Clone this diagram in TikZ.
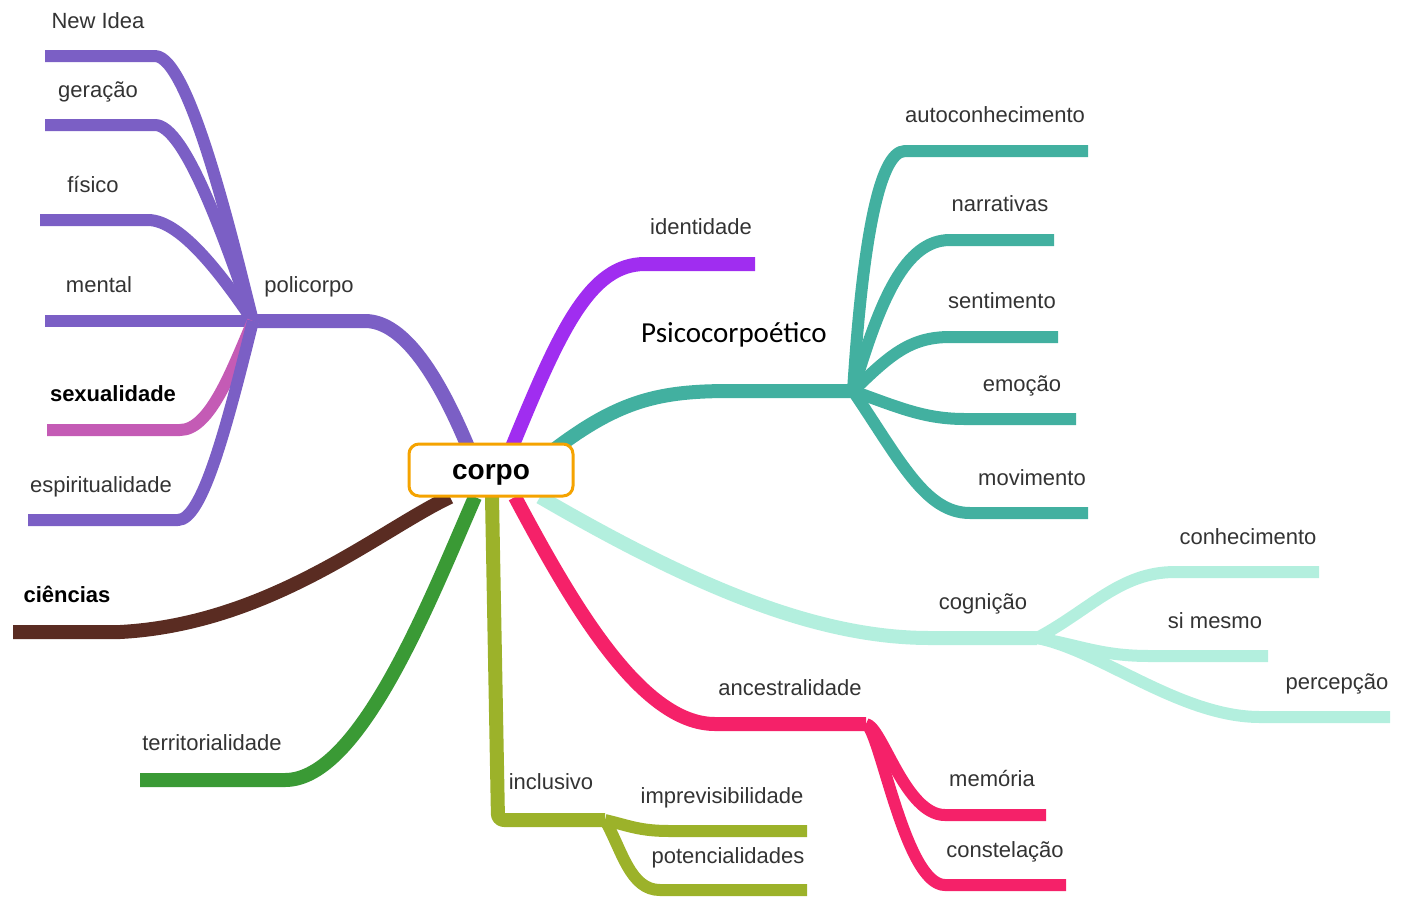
\documentclass[tikz,border=0pt]{standalone}
\usepackage{fontspec}
\setmainfont{Liberation Sans}
\newfontfamily\calfont{Carlito}
\definecolor{lblc}{RGB}{51,51,51}
\definecolor{cpurple}{RGB}{123,95,197}
\definecolor{cmagenta}{RGB}{196,91,181}
\definecolor{cviolet}{RGB}{160,45,240}
\definecolor{cteal}{RGB}{66,176,160}
\definecolor{cmint}{RGB}{179,239,222}
\definecolor{cpink}{RGB}{245,33,105}
\definecolor{colive}{RGB}{156,178,42}
\definecolor{cgreen}{RGB}{58,154,53}
\definecolor{cbrown}{RGB}{90,44,34}
\definecolor{corange}{RGB}{245,163,0}
\begin{document}
\begin{tikzpicture}[x=1pt,y=-1pt,
  br/.style={line width=14pt, line cap=butt, line join=round},
  sub/.style={line width=12pt, line cap=butt, line join=round},
  lbl/.style={anchor=base, text=lblc, font=\fontsize{22}{26}\selectfont, inner sep=0pt},
  blbl/.style={anchor=base, text=black, font=\bfseries\fontsize{22}{26}\selectfont, inner sep=0pt}]
\useasboundingbox (0,0) rectangle (1402,898);

% hubs and ends
\coordinate (c) at (491,470);
\coordinate (hpoli) at (253,321);
\coordinate (hpsi) at (853,391);
\coordinate (hcog) at (1037,638);
\coordinate (hanc) at (866,724);
\coordinate (hinc) at (605,820);

% ---------- policorpo ----------
\coordinate (sPoli) at (468,447);
\coordinate (aPoli) at (365,321);
\draw[br,cpurple] (sPoli) .. controls (440,380) and (405,321) .. (aPoli) -- (hpoli);

\coordinate (eNew) at (45,56);   \coordinate (kNew) at (155,56);
\coordinate (eGer) at (45,125);  \coordinate (kGer) at (155,125);
\coordinate (eFis) at (40,220);  \coordinate (kFis) at (148,220);
\coordinate (eMen) at (45,321);
\coordinate (eSex) at (47,430);  \coordinate (kSex) at (180,430);
\coordinate (eEsp) at (28,520);  \coordinate (kEsp) at (178,520);

\draw[sub,cpurple] (eNew) -- (kNew) .. controls (190,56) and (235,250) .. (hpoli);
\draw[sub,cpurple] (eGer) -- (kGer) .. controls (185,125) and (225,240) .. (hpoli);
\draw[sub,cpurple] (eFis) -- (kFis) .. controls (182,220) and (225,280) .. (hpoli);
\draw[sub,cpurple] (eMen) -- (hpoli);
\draw[sub,cmagenta] (eSex) -- (kSex) .. controls (210,430) and (232,370) .. (hpoli);
\draw[sub,cpurple] (eEsp) -- (kEsp) .. controls (202,520) and (226,430) .. (hpoli);

% ---------- identidade ----------
\coordinate (sIde) at (512,447);
\coordinate (aIde) at (645,264);
\coordinate (eIde) at (755,264);
\draw[br,cviolet] (sIde) .. controls (560,330) and (590,264) .. (aIde) -- (eIde);

% ---------- Psicocorpoetico ----------
\coordinate (sPsi) at (555,449);
\coordinate (aPsi) at (730,391);
\draw[br,cteal] (sPsi) .. controls (620,400) and (660,391) .. (aPsi) -- (hpsi);

\coordinate (kAut) at (905,151);  \coordinate (eAut) at (1088,151);
\coordinate (kNar) at (950,240);  \coordinate (eNar) at (1054,240);
\coordinate (kSen) at (950,337);  \coordinate (eSen) at (1058,337);
\coordinate (kEmo) at (965,419);  \coordinate (eEmo) at (1076,419);
\coordinate (kMov) at (970,513);  \coordinate (eMov) at (1088,513);
\draw[sub,cteal] (hpsi) .. controls (862,250) and (878,151) .. (kAut) -- (eAut);
\draw[sub,cteal] (hpsi) .. controls (880,300) and (905,240) .. (kNar) -- (eNar);
\draw[sub,cteal] (hpsi) .. controls (890,355) and (910,337) .. (kSen) -- (eSen);
\draw[sub,cteal] (hpsi) .. controls (900,408) and (925,419) .. (kEmo) -- (eEmo);
\draw[sub,cteal] (hpsi) .. controls (900,460) and (925,513) .. (kMov) -- (eMov);

% ---------- cognicao ----------
\coordinate (sCog) at (540,497);
\coordinate (aCog) at (930,638);
\draw[br,cmint] (sCog) .. controls (700,590) and (820,638) .. (aCog) -- (hcog);

\coordinate (kCon) at (1175,572);  \coordinate (eCon) at (1319,572);
\coordinate (kSim) at (1150,656);  \coordinate (eSim) at (1268,656);
\coordinate (kPer) at (1260,717);  \coordinate (ePer) at (1390,717);
\draw[sub,cmint] (hcog) .. controls (1090,610) and (1120,572) .. (kCon) -- (eCon);
\draw[sub,cmint] (hcog) .. controls (1080,645) and (1100,656) .. (kSim) -- (eSim);
\draw[sub,cmint] (hcog) .. controls (1100,650) and (1180,717) .. (kPer) -- (ePer);

% ---------- ancestralidade ----------
\coordinate (sAnc) at (515,497);
\coordinate (aAnc) at (715,724);
\draw[br,cpink] (sAnc) .. controls (570,600) and (640,724) .. (aAnc) -- (hanc);

\coordinate (kMem) at (945,815);  \coordinate (eMem) at (1046,815);
\coordinate (kCst) at (945,885);  \coordinate (eCst) at (1066,885);
\draw[sub,cpink] (hanc) .. controls (882,726) and (905,815) .. (kMem) -- (eMem);
\draw[sub,cpink] (hanc) .. controls (880,730) and (905,885) .. (kCst) -- (eCst);

% ---------- inclusivo ----------
\coordinate (sInc) at (492,497);
\coordinate (aInc) at (498,820);
\draw[br,colive,rounded corners=6pt] (sInc) -- (aInc) -- (hinc);

\coordinate (kImp) at (670,831);  \coordinate (eImp) at (807,831);
\coordinate (kPot) at (660,890);  \coordinate (ePot) at (807,890);
\draw[sub,colive] (hinc) .. controls (630,826) and (640,831) .. (kImp) -- (eImp);
\draw[sub,colive] (hinc) .. controls (622,850) and (630,890) .. (kPot) -- (ePot);

% ---------- territorialidade ----------
\coordinate (sTer) at (475,497);
\coordinate (aTer) at (285,780);
\coordinate (eTer) at (140,780);
\draw[br,cgreen] (sTer) .. controls (430,600) and (360,780) .. (aTer) -- (eTer);

% ---------- ciencias ----------
\coordinate (sCie) at (450,497);
\coordinate (aCie) at (120,632);
\coordinate (eCie) at (13,632);
\draw[br,cbrown] (sCie) .. controls (380,530) and (270,624) .. (aCie) -- (eCie);

% ---------- centre ----------
\node[draw=corange, line width=3pt, fill=white, rounded corners=10pt,
      minimum width=164pt, minimum height=52pt, inner sep=0pt] (corpo) at (c) {};
\node[anchor=base, inner sep=0pt, font=\bfseries\fontsize{28}{32}\selectfont] (tCorpo) at (491,479) {corpo};

% ---------- labels ----------
\node[lbl] (tNew) at (98,28) {New Idea};
\node[lbl] (tGer) at (98,97) {geração};
\node[lbl] (tFis) at (93,192) {físico};
\node[lbl] (tMen) at (99,292) {mental};
\node[blbl] (tSex) at (113,401) {sexualidade};
\node[lbl] (tEsp) at (101,492) {espiritualidade};
\node[blbl] (tCie) at (67,602) {ciências};
\node[lbl] (tTer) at (212,750) {territorialidade};
\node[lbl] (tPoli) at (309,292) {policorpo};
\node[lbl] (tIde) at (701,234) {identidade};
\node[anchor=base, text=black, inner sep=0pt, font=\calfont\fontsize{29}{34}\selectfont] (tPsi) at (734,342) {Psicocorpoético};
\node[lbl] (tAut) at (995,122) {autoconhecimento};
\node[lbl] (tNar) at (1000,211) {narrativas};
\node[lbl] (tSen) at (1002,308) {sentimento};
\node[lbl] (tEmo) at (1022,391) {emoção};
\node[lbl] (tMov) at (1032,485) {movimento};
\node[lbl] (tCon) at (1248,544) {conhecimento};
\node[lbl] (tCog) at (983,609) {cognição};
\node[lbl] (tSim) at (1215,628) {si mesmo};
\node[lbl] (tPer) at (1337,689) {percepção};
\node[lbl] (tAnc) at (790,695) {ancestralidade};
\node[lbl] (tMem) at (992,786) {memória};
\node[lbl] (tCst) at (1005,857) {constelação};
\node[lbl] (tInc) at (551,789) {inclusivo};
\node[lbl] (tImp) at (722,803) {imprevisibilidade};
\node[lbl] (tPot) at (728,863) {potencialidades};
\end{tikzpicture}
\end{document}
